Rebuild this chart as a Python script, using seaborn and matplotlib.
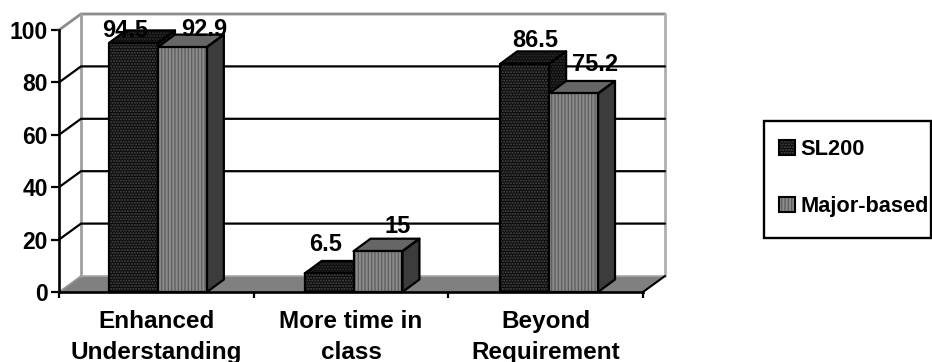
import matplotlib
matplotlib.use("Agg")
import matplotlib.pyplot as plt
import pandas as pd
import seaborn as sns
from matplotlib.legend_handler import HandlerTuple
from matplotlib.patches import Patch, Polygon, Rectangle

categories = ["Enhanced\nUnderstanding", "More time in\nclass", "Beyond\nRequirement"]
series_names = ["SL200", "Major-based"]
sl200_values = [94.5, 6.5, 86.5]
major_values = [92.9, 15, 75.2]
value_labels = ["94.5", "6.5", "86.5", "92.9", "15", "75.2"]
y_ticks = [0, 20, 40, 60, 80, 100]

# layout (pixels)
W, H = 932, 362
AX_L, AX_R, AX_T, AX_B = 59, 643, 30, 292
WALL_DX, WALL_DY = 22, 16
BAR_DX, BAR_DY = 17, 12.5
BAR_LIFT = 1.5
LABEL_OFFSETS = [(-8, 12.5), (-4, 29), (11, 23.5), (22, 18), (20, 25), (21.5, 29)]

sns.set_style("white")
plt.rcParams["font.family"] = ["Liberation Sans", "DejaVu Sans"]
plt.rcParams["font.weight"] = "bold"
plt.rcParams["hatch.linewidth"] = 1.0
plt.rcParams["text.color"] = "black"
plt.rcParams["xtick.color"] = "black"
plt.rcParams["ytick.color"] = "black"

df = pd.DataFrame({
    "category": categories * 2,
    "series": [series_names[0]] * 3 + [series_names[1]] * 3,
    "value": sl200_values + major_values,
})

fig = plt.figure(figsize=(W / 100, H / 100), dpi=100, facecolor="white")
ax = fig.add_axes([AX_L / W, 1 - AX_B / H, (AX_R - AX_L) / W, (AX_B - AX_T) / H])
ax.patch.set_alpha(0)

DARK, DARK_H = "#0b0b0b", "#4a4a4a"
MID, MID_H = "#8c8c8c", "#606060"
sns.barplot(data=df, x="category", y="value", hue="series", order=categories,
            hue_order=series_names, palette=[DARK, MID], width=0.5, gap=0,
            legend=False, ax=ax, zorder=3)

XMIN, XMAX = -0.506, 2.48
ax.set_xlim(XMIN, XMAX)
ax.set_ylim(0, 100)
PX = (XMAX - XMIN) / (AX_R - AX_L)
PY = 100 / (AX_B - AX_T)


def face(pts, color, hatch=None, hatch_color=None, z=3):
    if hatch:
        ax.add_patch(Polygon(pts, closed=True, facecolor=color, edgecolor=hatch_color,
                             hatch=hatch, linewidth=0, zorder=z, clip_on=False))
    else:
        ax.add_patch(Polygon(pts, closed=True, facecolor=color, edgecolor="none",
                             zorder=z, clip_on=False))
    ax.add_patch(Polygon(pts, closed=True, fill=False, edgecolor="black", linewidth=1.6,
                         joinstyle="round", zorder=z + 0.01, clip_on=False))


# walls, floor, gridlines
wx, wy = WALL_DX * PX, WALL_DY * PY
face_floor = [(XMIN, 0), (XMIN + wx, wy), (XMAX + wx, wy), (XMAX, 0)]
ax.add_patch(Polygon(face_floor, closed=True, facecolor="#808080", edgecolor="none",
                     zorder=1, clip_on=False))
ax.plot([XMIN + wx, XMAX + wx], [wy, wy], color="#a8a8a8", lw=1.2, zorder=1.05, clip_on=False)
ax.plot([XMAX, XMAX + wx], [0, wy], color="black", lw=1.5, zorder=1.5, clip_on=False)
ax.plot([XMIN, XMIN + wx], [0, wy], color="#9a9a9a", lw=1.2, zorder=1.5, clip_on=False)
for v in y_ticks[1:-1]:
    ax.plot([XMIN, XMIN + wx, XMAX + wx], [v, v + wy, v + wy], color="black", lw=1.6,
            zorder=1.2, clip_on=False)
ax.plot([XMIN, XMIN + wx, XMAX + wx], [100, 100 + wy, 100 + wy],
        color="#8c8c8c", lw=2, zorder=1.1, clip_on=False, solid_joinstyle="miter")
ax.plot([XMAX + wx, XMAX + wx], [wy, 100 + wy], color="#b0b0b0", lw=2, zorder=1.1, clip_on=False)
ax.plot([XMIN + wx, XMIN + wx], [wy, 100 + wy], color="#a0a0a0", lw=2, zorder=1.1, clip_on=False)

# 3-D bars, derived from the bars seaborn placed
bars = list(ax.patches)[:6]
bx, by = BAR_DX * PX, BAR_DY * PY
for i, bar in enumerate(bars):
    x0, w = bar.get_x(), bar.get_width()
    y1 = bar.get_height() + BAR_LIFT * PY
    x1 = x0 + w
    is_dark = i < 3
    col, hcol, htch = (DARK, DARK_H, "......") if is_dark else (MID, MID_H, "|||||")
    z = 3 if is_dark else 4
    side_col = DARK if is_dark else "#3c3c3c"
    top_col = DARK if is_dark else "#666666"
    face([(x1, 0), (x1 + bx, by), (x1 + bx, y1 + by), (x1, y1)], side_col,
         "......" if is_dark else None, "#333333", z=z)
    face([(x0, y1), (x0 + bx, y1 + by), (x1 + bx, y1 + by), (x1, y1)], top_col,
         htch if is_dark else None, "#333333", z=z)
    bar.set_visible(False)
    face([(x0, 0), (x0, y1), (x1, y1), (x1, 0)], col, htch, hcol, z=z + 0.02)
    dx, dy = LABEL_OFFSETS[i]
    ax.annotate(value_labels[i], (x0 + w / 2, y1), xytext=(dx * 0.72, dy * 0.72),
                textcoords="offset points", ha="center", va="center",
                fontsize=17, fontweight="bold", color="black", zorder=6,
                annotation_clip=False)

# axes
for s in ("top", "right"):
    ax.spines[s].set_visible(False)
for s in ("left", "bottom"):
    ax.spines[s].set_linewidth(1.9)
    ax.spines[s].set_color("black")
    ax.spines[s].set_zorder(5)
ax.set_xlabel("")
ax.set_ylabel("")
ax.set_yticks(y_ticks)
ax.tick_params(axis="y", left=True, length=6, width=1.6, pad=2, labelsize=16.5)
step = (XMAX - XMIN) / 3
bounds = [XMIN + step * i for i in range(4)]
ax.set_xticks(bounds)
ax.set_xticklabels([])
ax.set_xticks([b + step / 2 for b in bounds[:-1]], minor=True)
ax.set_xticklabels(categories, minor=True, linespacing=1.42, fontsize=17.5, fontweight="bold")
ax.tick_params(axis="x", which="major", bottom=True, length=4.5, width=1.6)
ax.tick_params(axis="x", which="minor", bottom=False, length=0, pad=13)
for t in ax.get_yticklabels():
    t.set_fontweight("bold")


# legend
def handle(col, h, hc):
    return (Patch(facecolor=col, edgecolor=hc, hatch=h, linewidth=0),
            Patch(fill=False, edgecolor="black", linewidth=1.5))


fig.add_artist(Rectangle((764 / W, 1 - 238 / H), 167 / W, 117 / H, transform=fig.transFigure,
                         facecolor="white", edgecolor="black", linewidth=1.7))
leg = fig.legend(
    [handle(DARK, "......", DARK_H), handle(MID, "|||||", MID_H)], series_names,
    handler_map={tuple: HandlerTuple(ndivide=1, pad=0)},
    loc="upper left", bbox_to_anchor=(779 / W, 1 - 139 / H), borderaxespad=0,
    frameon=False,
    prop={"family": "Liberation Sans", "weight": "bold", "size": 15.7},
    handlelength=0.72, handleheight=0.72, handletextpad=0.28,
    labelspacing=1.66, borderpad=0,
)

fig.savefig("out.png", dpi=100, facecolor="white")
